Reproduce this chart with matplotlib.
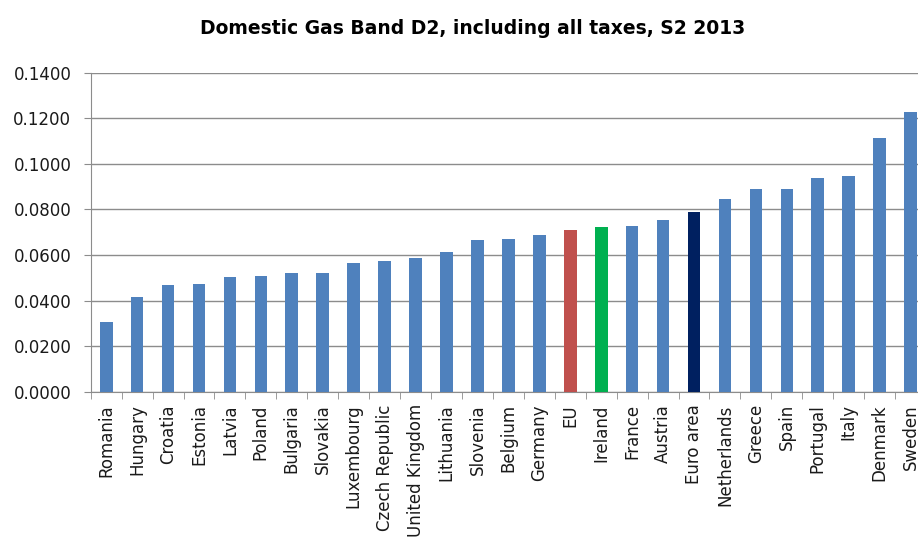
import numpy as np
import matplotlib.pyplot as plt

countries = ['Romania', 'Hungary', 'Croatia', 'Estonia', 'Latvia', 'Poland',
             'Bulgaria', 'Slovakia', 'Luxembourg', 'Czech Republic',
             'United Kingdom', 'Lithuania', 'Slovenia', 'Belgium', 'Germany',
             'EU', 'Ireland', 'France', 'Austria', 'Euro area', 'Netherlands',
             'Greece', 'Spain', 'Portugal', 'Italy', 'Denmark', 'Sweden']
prices = [0.0304, 0.0417, 0.0468, 0.0474, 0.0502, 0.0508, 0.0519, 0.0519,
          0.0565, 0.0575, 0.0587, 0.0614, 0.0666, 0.0671, 0.0689, 0.0711,
          0.0721, 0.0728, 0.0755, 0.0788, 0.0846, 0.0891, 0.0891, 0.0936,
          0.0946, 0.1115, 0.1229]

special = {'EU': '#C0504D', 'Ireland': '#00B050', 'Euro area': '#002060'}
colors = [special.get(c, '#4F81BD') for c in countries]

fig = plt.figure(figsize=(9.18, 5.39), dpi=100)
# the original chart is cut off on the right, so the axes runs past the edge
ax = fig.add_axes([0.0988, 0.2733, 0.91, 0.5918])

x = np.arange(len(countries))
ax.bar(x, prices, width=0.41, color=colors, zorder=3)

ax.set_xlim(-0.5, len(countries) - 0.5)
ax.set_ylim(0, 0.14)
yt = np.arange(0, 0.1401, 0.02)
ax.set_yticks(yt)
ax.set_yticklabels([f'{v:.4f}' for v in yt], fontsize=12)
ax.yaxis.grid(True, color='#8c8c8c', linewidth=1.0, zorder=0)

ax.set_xticks(x)
ax.set_xticklabels(countries, rotation=90, fontsize=12, color='#1a1a1a')
ax.tick_params(axis='x', length=0, pad=9)
ax.set_xticks(np.arange(-0.5, len(countries), 1), minor=True)
ax.tick_params(axis='x', which='minor', length=5, color='#8c8c8c')
ax.tick_params(axis='y', length=5, color='#8c8c8c', pad=9, labelcolor='#1a1a1a')

for s in ['top', 'right']:
    ax.spines[s].set_visible(False)
for s in ['left', 'bottom']:
    ax.spines[s].set_color('#8c8c8c')

fig.text(0.515, 0.948, 'Domestic Gas Band D2, including all taxes, S2 2013',
         ha='center', va='center', fontsize=13.5, fontweight='bold')

fig.savefig('out.png', dpi=100)
